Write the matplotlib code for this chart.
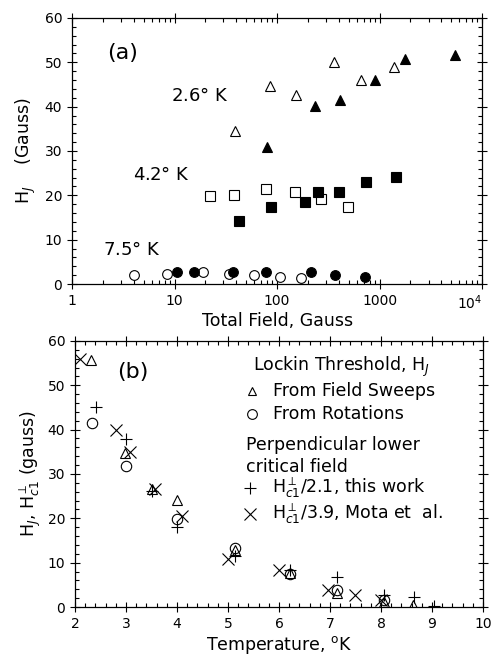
import matplotlib
matplotlib.use('Agg')
import matplotlib.pyplot as plt
from matplotlib.ticker import MultipleLocator, LogLocator, NullFormatter
import numpy as np

# panel (a): H_J vs total field
tri_open_x = [39.2, 84.8, 154.5, 357, 661, 1396]
tri_open_y = [34.4, 44.7, 42.7, 50.0, 45.9, 48.9]
tri_fill_x = [79.9, 235, 408, 910, 1761, 5410]
tri_fill_y = [30.9, 40.2, 41.6, 46.1, 50.75, 51.6]
sq_open_x = [22.0, 37.8, 78.1, 150, 271, 493]
sq_open_y = [19.8, 20.15, 21.5, 20.75, 19.2, 17.4]
sq_fill_x = [42.6, 87.4, 186, 249, 405, 733, 1438]
sq_fill_y = [14.1, 17.4, 18.6, 20.75, 20.7, 23.0, 24.2]
ci_open_x = [4.06, 8.45, 19.0, 33.8, 59.2, 108, 171]
ci_open_y = [2.0, 2.3, 2.6, 2.3, 1.95, 1.65, 1.35]
ci_fill_x = [10.6, 15.4, 36.9, 78.1, 215, 371, 717]
ci_fill_y = [2.7, 2.7, 2.7, 2.7, 2.7, 1.95, 1.65]

# panel (b): vs temperature
sweep_T = [2.31, 2.98, 3.51, 4.01, 5.14, 6.21, 7.13, 8.05, 8.62]
sweep_H = [55.7, 34.8, 26.7, 24.1, 12.95, 7.75, 3.2, 1.1, 0.4]
rot_T = [2.33, 3.0, 4.0, 5.14, 6.21, 7.13, 8.06]
rot_H = [41.6, 31.8, 19.8, 13.3, 7.5, 3.9, 1.5]
hc1_T = [2.41, 3.0, 3.51, 4.0, 5.14, 6.21, 7.14, 8.05, 8.64, 9.03]
hc1_H = [45.0, 37.8, 26.1, 18.1, 11.4, 8.3, 6.8, 2.8, 2.3, 0.2]
mota_T = [2.1, 2.8, 3.08, 3.57, 4.1, 5.0, 6.01, 6.96, 7.5, 8.0]
mota_H = [55.9, 39.9, 35.0, 26.7, 20.5, 10.8, 8.3, 3.9, 2.6, 1.6]

plt.rcParams['font.family'] = ['DejaVu Sans']
plt.rcParams['mathtext.fontset'] = 'dejavusans'

fig = plt.figure(figsize=(4.92, 6.57), dpi=100)
axa = fig.add_axes([0.1463, 0.5677, 0.8337, 0.405])
axb = fig.add_axes([0.1524, 0.0761, 0.8293, 0.405])

k = dict(linestyle='none', color='k', markeredgewidth=0.8)
axa.plot(tri_open_x, tri_open_y, marker='^', mfc='white', ms=7, **k)
axa.plot(tri_fill_x, tri_fill_y, marker='^', mfc='k', ms=7, **k)
axa.plot(sq_open_x, sq_open_y, marker='s', mfc='white', ms=7.5, **k)
axa.plot(sq_fill_x, sq_fill_y, marker='s', mfc='k', ms=7.5, **k)
axa.plot(ci_open_x, ci_open_y, marker='o', mfc='white', ms=7, **k)
axa.plot(ci_fill_x, ci_fill_y, marker='o', mfc='k', ms=7, **k)

axa.set_xscale('log')
axa.set_xlim(1, 1e4)
axa.set_ylim(0, 60)
axa.set_xticks([1, 10, 100, 1000, 1e4])
axa.set_xticklabels(['1', '10', '100', '1000', '10$^4$'])
axa.get_xticklabels()[-1].set_horizontalalignment('right')
axa.xaxis.set_minor_locator(LogLocator(base=10, subs=np.arange(2, 10)))
axa.xaxis.set_minor_formatter(NullFormatter())
axa.yaxis.set_major_locator(MultipleLocator(10))
axa.yaxis.set_minor_locator(MultipleLocator(2))
axa.set_xlabel('Total Field, Gauss', fontsize=12.5, labelpad=0)
axa.set_ylabel('H$_J$    (Gauss)', fontsize=12.5, labelpad=5)
axa.text(2.2, 52, '(a)', fontsize=16, va='center')
axa.text(9.3, 42.3, '2.6$\\degree$ K', fontsize=13, va='center')
axa.text(3.97, 24.5, '4.2$\\degree$ K', fontsize=13, va='center')
axa.text(2.02, 7.7, '7.5$\\degree$ K', fontsize=13, va='center')

axb.plot(sweep_T, sweep_H, marker='^', mfc='none', ms=7, **k)
axb.plot(rot_T, rot_H, marker='o', mfc='none', ms=7.5, **k)
axb.plot(hc1_T, hc1_H, marker='+', ms=9, **k)
axb.plot(mota_T, mota_H, marker='x', ms=8, **k)
axb.set_xlim(2, 10)
axb.set_ylim(0, 60)
axb.xaxis.set_major_locator(MultipleLocator(1))
axb.xaxis.set_minor_locator(MultipleLocator(0.2))
axb.yaxis.set_major_locator(MultipleLocator(10))
axb.yaxis.set_minor_locator(MultipleLocator(2))
axb.set_xlabel('Temperature, $^{\\mathrm{o}}$K', fontsize=12.5, labelpad=2)
axb.set_ylabel('H$_J$, H$^{\\perp}_{c1}$ (gauss)', fontsize=12.5, labelpad=3)
axb.text(2.83, 53, '(b)', fontsize=16, va='center')

tr = axb.transAxes
fs = 12.5
axb.text(0.436, 0.902, 'Lockin Threshold, H$_J$', fontsize=fs, va='center', transform=tr)
axb.plot([0.434], [0.812], marker='^', mfc='none', ms=6, transform=tr, clip_on=False, **k)
axb.text(0.486, 0.812, 'From Field Sweeps', fontsize=fs, va='center', transform=tr)
axb.plot([0.434], [0.726], marker='o', mfc='none', ms=7, transform=tr, clip_on=False, **k)
axb.text(0.486, 0.726, 'From Rotations', fontsize=fs, va='center', transform=tr)
axb.text(0.42, 0.609, 'Perpendicular lower', fontsize=fs, va='center', transform=tr)
axb.text(0.42, 0.526, 'critical field', fontsize=fs, va='center', transform=tr)
axb.plot([0.43], [0.447], marker='+', ms=9, transform=tr, clip_on=False, **k)
axb.text(0.483, 0.447, 'H$^{\\perp}_{c1}$/2.1, this work', fontsize=fs, va='center', transform=tr)
axb.plot([0.43], [0.35], marker='x', ms=8, transform=tr, clip_on=False, **k)
axb.text(0.483, 0.35, 'H$^{\\perp}_{c1}$/3.9, Mota et  al.', fontsize=fs, va='center', transform=tr)

for ax in (axa, axb):
    ax.tick_params(which='both', top=True, right=True, labelsize=10, width=0.8)
    ax.tick_params(which='major', direction='inout', length=7)
    ax.tick_params(which='minor', direction='in', length=3)
    for s in ax.spines.values():
        s.set_linewidth(0.9)

fig.savefig('out.png', dpi=100)
